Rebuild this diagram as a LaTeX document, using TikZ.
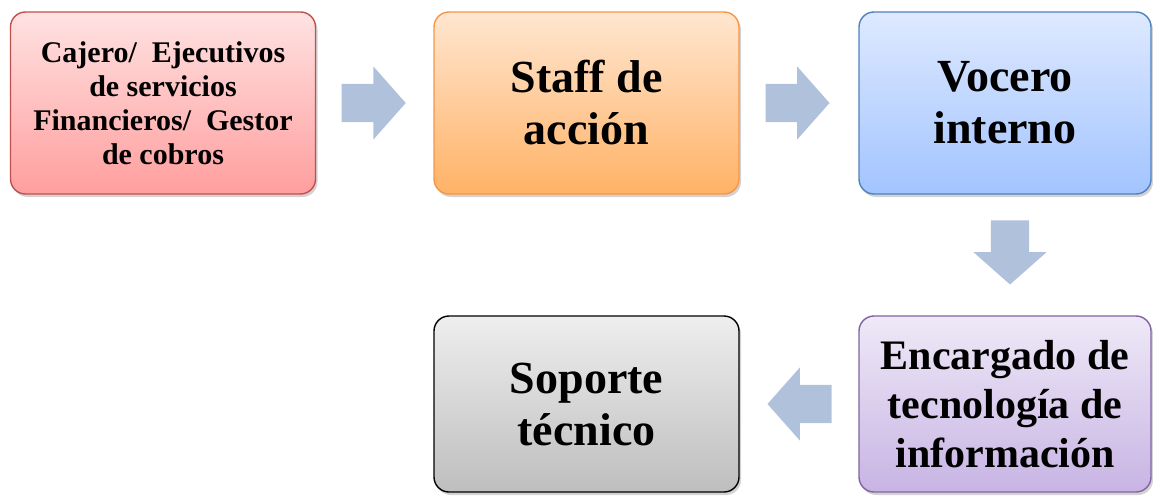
\documentclass[tikz,border=0pt]{standalone}
\usepackage{fontspec}
\setmainfont{Liberation Serif}
\usepackage{xcolor}
\usepackage{tikz}
\usetikzlibrary{positioning, calc, shapes.arrows, shadows}

\definecolor{flechaazul}{RGB}{176,193,219}
\definecolor{rojoarriba}{RGB}{255,226,226}
\definecolor{rojoabajo}{RGB}{255,158,158}
\definecolor{rojoborde}{RGB}{192,80,77}
\definecolor{naranjaarriba}{RGB}{255,230,208}
\definecolor{naranjaabajo}{RGB}{255,178,102}
\definecolor{naranjaborde}{RGB}{247,150,70}
\definecolor{azularriba}{RGB}{222,233,255}
\definecolor{azulabajo}{RGB}{162,196,255}
\definecolor{azulborde}{RGB}{79,129,189}
\definecolor{lilaarriba}{RGB}{238,233,247}
\definecolor{lilaabajo}{RGB}{200,180,228}
\definecolor{lilaborde}{RGB}{128,100,162}
\definecolor{grisarriba}{RGB}{238,238,238}
\definecolor{grisabajo}{RGB}{190,190,190}

\begin{document}
\begin{tikzpicture}[x=1pt, y=-1pt, on grid,
        caja/.style={rectangle, rounded corners=15pt, line width=1.4pt,
            minimum width=305pt, minimum height=182pt, align=center,
            font=\bfseries\fontsize{46}{52}\selectfont,
            drop shadow={opacity=0.35, shadow xshift=2pt, shadow yshift=-3pt}},
        flecha/.style={single arrow, fill=flechaazul, draw=none,
            inner xsep=0pt, inner ysep=19pt,
            minimum height=64pt, minimum width=73pt,
            single arrow head extend=17.5pt, single arrow tip angle=97}]
        \useasboundingbox (0,0) rectangle (1153,495);

        \node[caja, draw=rojoborde, top color=rojoarriba, bottom color=rojoabajo,
            font=\bfseries\fontsize{30}{34}\selectfont] (cajero) at (163,103)
            {Cajero/\ \ Ejecutivos\\de servicios\\Financieros/\ \ Gestor\\de cobros};
        \node[caja, draw=naranjaborde, top color=naranjaarriba, bottom color=naranjaabajo] (staff)
            [right=423.5pt of cajero] {Staff de\\acción};
        \node[caja, draw=azulborde, top color=azularriba, bottom color=azulabajo,
            minimum width=292pt] (vocero) [right=418.5pt of staff] {Vocero\\interno};
        \node[caja, draw=lilaborde, top color=lilaarriba, bottom color=lilaabajo,
            minimum width=292pt, minimum height=176pt,
            font=\bfseries\fontsize{42}{49}\selectfont] (encargado) [below=301pt of vocero]
            {Encargado de\\tecnología de\\información};
        \node[caja, draw=black, top color=grisarriba, bottom color=grisabajo,
            minimum height=176pt] (soporte) [left=418.5pt of encargado] {Soporte\\técnico};

        %flechas
        \node[flecha, xshift=-9.5pt] (f1) at ($(cajero.east)!0.5!(staff.west)$) {};
        \node[flecha, xshift=-10pt] (f2) at ($(staff.east)!0.5!(vocero.west)$) {};
        \node[flecha, shape border rotate=270, inner xsep=19pt, inner ysep=0pt,
            xshift=5pt, yshift=11pt] (f3) at ($(vocero.south)!0.5!(encargado.north)$) {};
        \node[flecha, shape border rotate=180, xshift=9pt] (f4) at ($(encargado.west)!0.5!(soporte.east)$) {};

    \end{tikzpicture}
\end{document}
